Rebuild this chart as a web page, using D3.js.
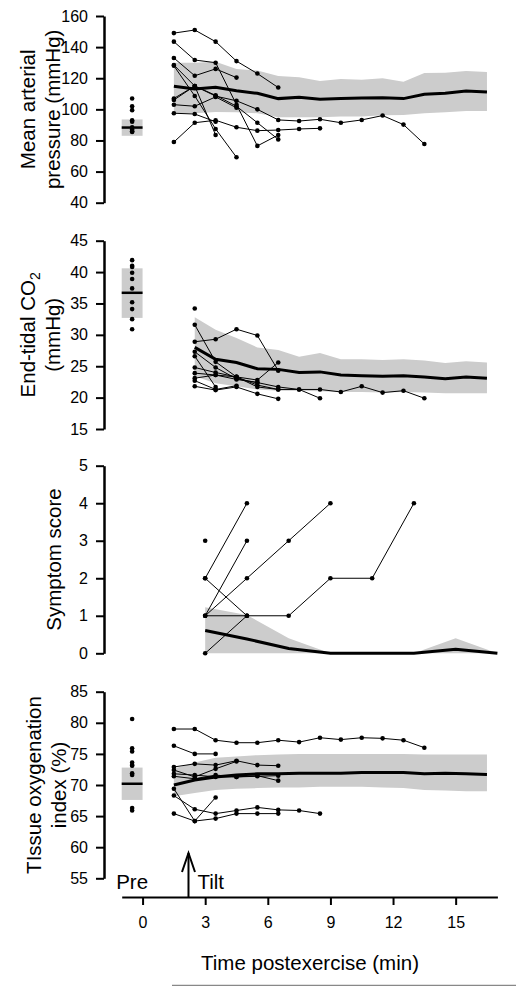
<!DOCTYPE html>
<html><head><meta charset="utf-8">
<script src="https://cdn.jsdelivr.net/npm/d3@7"></script>
<style>
html,body{margin:0;padding:0;background:#fff;}
svg{display:block;font-family:"Liberation Sans",Arial,Helvetica,sans-serif;}
</style></head>
<body>
<svg id="chart" width="516" height="986"></svg>
<script>
// ---------- DATA ----------
const xTicks = [0, 3, 6, 9, 12, 15];
const prePos = -0.5;
const tiltTime = 2.2;

// Mean arterial pressure
const mapTimes = [1.5,2.5,3.5,4.5,5.5,6.5,7.5,8.5,9.5,10.5,11.5,12.5,13.5,14.5,15.5,16.5];
const mapMean  = [114.8,113.1,114.2,112,110.3,106.9,107.7,106.5,106.9,107.3,107.5,106.9,109.7,110.3,111.8,111.2];
const mapUpper = [130,130,130.6,125.9,124.9,121.4,120.6,118.2,119.5,119.1,120,117.8,123.4,123.5,124.7,124];
const mapLower = [97.5,97.5,98.3,98.1,97.5,94.9,95,95,95.4,95.4,96.2,96.4,97.5,98.1,98.9,98.9];
const mapPre = [107, 102, 99.5, 93, 92, 88.5, 87, 86, 85.5];
const mapPreStats = [83, 88.3, 93.5]; // low, mean, high
const mapSubjects = [
  [149,151,143.5,131,123,114],
  [143.5,131.7,130,103,76.5,83.5],
  [133,121.6,126,120.4],
  [128.5,115,83.5],
  [128,108.6,87.4,69.2],
  [107,115,108.5,105.5,100,93.2,92.5,93.6,91.4,93.2,96,90.2,77.7],
  [106,115,109,102,91.4,80.7],
  [103,102,108,101],
  [97.5,97,92],
  [79,91.4,93,88.5,86.3,86.7,87.4,87.8]
];
const mapTicks = [40,60,80,100,120,140,160];

// End-tidal CO2
const co2Times = [2.5,3.5,4.5,5.5,6.5,7.5,8.5,9.5,10.5,11.5,12.5,13.5,14.5,15.5,16.5];
const co2Mean  = [28.0,26.1,25.6,24.6,24.5,24.0,24.1,23.6,23.5,23.4,23.5,23.3,23.0,23.3,23.1];
const co2Upper = [32.8,30.8,29.5,28.0,27.6,26.5,27.1,26.1,26.1,26.0,26.1,25.9,25.5,25.8,25.6];
const co2Lower = [23.4,22.3,21.8,21.3,21.1,21.1,21.0,20.9,20.9,20.8,20.9,20.8,20.7,20.7,20.7];
const co2Pre = [41.9,41.0,40.8,39.9,38.9,37.4,35.2,34.1,32.5,30.9];
const co2PreStats = [32.7, 36.7, 40.6];
const co2Subjects = [
  [28.9,29.3,30.9,29.9,24.3],
  [31.6,25.7,23.3,22.8,25.6],
  [27.3,24.8,23.0,22.4,21.7,21.3,21.3,20.9,21.8,20.8,21.1,19.9],
  [26.6,21.7],
  [24.8,24.0,23.3,22.0,21.3,21.3,19.9],
  [23.9,23.6,22.9,22.4],
  [23.1,23.6,23.3,21.7,21.3],
  [22.7,21.3,21.9],
  [21.8,21.2,21.7,20.6,19.8],
  [34.2]
];
const co2Ticks = [15,20,25,30,35,40,45];

// Symptom score
const symTimes = [3,5,7,9,11,13,15,17];
const symMean  = [0.61,0.38,0.13,0,0,0,0.11,0];
const symUpper = [1.23,1.02,0.4,0,0,0,0.4,0];
const symLower = [0,0,0,0,0,0,0,0];
const symSubjects = [
  [2,4],
  [2,1],
  [1,3],
  [1,2,3,4],
  [1,1,1,2,2,4],
  [0,1],
  [3]
];
const symTicks = [0,1,2,3,4,5];

// Tissue oxygenation index
const toiTimes = mapTimes;
const toiMean  = [70.0,70.8,71.3,71.6,71.8,71.8,71.9,71.9,71.9,72.0,72.0,72.0,71.8,71.9,71.8,71.7];
const toiUpper = [72.6,73.6,74.4,74.6,74.8,74.9,75.0,75.0,75.0,75.0,75.0,75.0,74.9,74.9,74.9,74.9];
const toiLower = [68.2,68.7,69.2,69.4,69.5,69.6,69.6,69.7,69.7,69.7,69.6,69.5,69.2,69.1,69.0,69.0];
const toiPre = [80.6,75.9,75.4,73.6,73.2,73.1,71.9,71.6,66.3,65.9];
const toiPreStats = [67.6, 70.2, 72.8];
const toiSubjects = [
  [79,79,77.2,76.8,76.8,77.2,76.9,77.6,77.3,77.6,77.5,77.2,76.0],
  [76.3,75.0,75.0],
  [72.9,73.4,73.2,73.9,73.2,73.1],
  [72.4,71.3,72.6,73.8],
  [71.8,71.6,71.3,71.3,71.5,70.7],
  [71.4,71.0,71.6,71.3,71.4,71.5],
  [69.4,64.2,68.0],
  [68.3,66.1,65.4,65.9,66.4,66.0,65.9,65.4],
  [65.4,64.2,64.6,65.4,65.4,65.4]
];
const toiTicks = [55,60,65,70,75,80,85];

// ---------- DRAW ----------
const svg = d3.select("#chart");
const FONT_LBL = 20.5, FONT_TICK = 16;
const axisX0 = 104;
const x = d3.scaleLinear().domain([-1, 17]).range([121.7, 497.4]);

const panels = [
  {domain:[40,160], range:[202.7,16], ticks:mapTicks, times:mapTimes, mean:mapMean, upper:mapUpper, lower:mapLower,
   subjects:mapSubjects, pre:mapPre, preStats:mapPreStats, label:[["Mean arterial"],["pressure (mmHg)"]], lx:[35,60]},
  {domain:[15,45], range:[429,240.7], ticks:co2Ticks, times:co2Times, mean:co2Mean, upper:co2Upper, lower:co2Lower,
   subjects:co2Subjects, pre:co2Pre, preStats:co2PreStats, label:[["End-tidal CO","2"],["(mmHg)"]], lx:[35,60]},
  {domain:[0,5], range:[653.3,465.7], ticks:symTicks, times:symTimes, mean:symMean, upper:symUpper, lower:symLower,
   subjects:symSubjects, pre:null, preStats:null, label:[["Symptom score"]], lx:[61]},
  {domain:[55,85], range:[878.3,691.7], ticks:toiTicks, times:toiTimes, mean:toiMean, upper:toiUpper, lower:toiLower,
   subjects:toiSubjects, pre:toiPre, preStats:toiPreStats, label:[["TIssue oxygenation"],["index (%)"]], lx:[41,66]}
];

panels.forEach(p => {
  const y = d3.scaleLinear().domain(p.domain).range(p.range);
  const g = svg.append("g");

  // band
  const band = p.times.map((t,i)=>({t, lo:p.lower[i], hi:p.upper[i]}));
  g.append("path").datum(band)
    .attr("d", d3.area().x(d=>x(d.t)).y0(d=>y(d.lo)).y1(d=>y(d.hi)))
    .attr("fill", "#cccccc").attr("stroke","none");

  // mean line
  const meanData = p.times.map((t,i)=>({t, v:p.mean[i]}));
  g.append("path").datum(meanData)
    .attr("d", d3.line().x(d=>x(d.t)).y(d=>y(d.v)))
    .attr("fill","none").attr("stroke","#000").attr("stroke-width",3);

  // subjects
  p.subjects.forEach(s => {
    const pts = s.map((v,i)=>({t:p.times[i], v})).filter(d=>d.v!=null);
    g.append("path").datum(pts)
      .attr("d", d3.line().x(d=>x(d.t)).y(d=>y(d.v)))
      .attr("fill","none").attr("stroke","#000").attr("stroke-width",1);
    g.selectAll(null).data(pts).enter().append("circle")
      .attr("cx", d=>x(d.t)).attr("cy", d=>y(d.v)).attr("r", 2.3).attr("fill","#000");
  });

  // pre
  if (p.pre) {
    const [lo, m, hi] = p.preStats;
    g.append("rect").attr("x", x(-1)).attr("width", x(0)-x(-1))
      .attr("y", y(hi)).attr("height", y(lo)-y(hi)).attr("fill","#cccccc");
    g.append("line").attr("x1", x(-1)).attr("x2", x(0)).attr("y1", y(m)).attr("y2", y(m))
      .attr("stroke","#000").attr("stroke-width",2.5);
    g.selectAll(null).data(p.pre).enter().append("circle")
      .attr("cx", x(prePos)).attr("cy", d=>y(d)).attr("r", 2.3).attr("fill","#000");
  }

  // y axis
  const ax = g.append("g").attr("transform", `translate(${axisX0},0)`)
    .call(d3.axisLeft(y).tickValues(p.ticks).tickSize(8).tickSizeOuter(0).tickPadding(8).tickFormat(d3.format("d")));
  ax.select(".domain").attr("stroke","#000").attr("stroke-width",2.5);
  ax.selectAll(".tick line").attr("stroke","#000").attr("stroke-width",2);
  ax.selectAll(".tick text").attr("fill","#000").style("font-size", FONT_TICK+"px")
    .style("font-family","'Liberation Sans',Arial,sans-serif");

  // y label
  const cy = (p.range[0]+p.range[1])/2;
  p.label.forEach((parts,i) => {
    const t = g.append("text").attr("transform", `translate(${p.lx[i]},${cy}) rotate(-90)`)
      .attr("text-anchor","middle").style("font-size", FONT_LBL+"px").attr("fill","#000");
    t.append("tspan").text(parts[0]);
    if (parts[1]) t.append("tspan").attr("dy", 5).style("font-size","14px").text(parts[1]);
  });
});

// x axis
const xg = svg.append("g").attr("transform","translate(0,897)")
  .call(d3.axisBottom(x).tickValues(xTicks).tickSize(8).tickSizeOuter(0).tickPadding(12));
xg.select(".domain").attr("stroke","#000").attr("stroke-width",2);
xg.selectAll(".tick line").attr("stroke","#000").attr("stroke-width",2);
xg.selectAll(".tick text").attr("fill","#000").style("font-size", FONT_TICK+"px")
  .style("font-family","'Liberation Sans',Arial,sans-serif");

svg.append("text").attr("x", 310).attr("y", 970).attr("text-anchor","middle")
  .style("font-size", FONT_LBL+"px").text("Time postexercise (min)");

// Pre and Tilt annotations
svg.append("text").attr("x", x(prePos)).attr("y", 889).attr("text-anchor","middle")
  .style("font-size", FONT_LBL+"px").text("Pre");
svg.append("text").attr("x", x(tiltTime)+9).attr("y", 889)
  .style("font-size", FONT_LBL+"px").text("Tilt");
const ax0 = x(tiltTime);
svg.append("line").attr("x1",ax0).attr("x2",ax0).attr("y1",853).attr("y2",897)
  .attr("stroke","#000").attr("stroke-width",2);
svg.append("path").attr("d", `M${ax0-6.5},872 L${ax0},853 L${ax0+6.5},872`)
  .attr("fill","none").attr("stroke","#000").attr("stroke-width",2);

// bottom rule
svg.append("line").attr("x1",172).attr("x2",516).attr("y1",985.5).attr("y2",985.5)
  .attr("stroke","#888").attr("stroke-width",1.5);
</script>
</body></html>
